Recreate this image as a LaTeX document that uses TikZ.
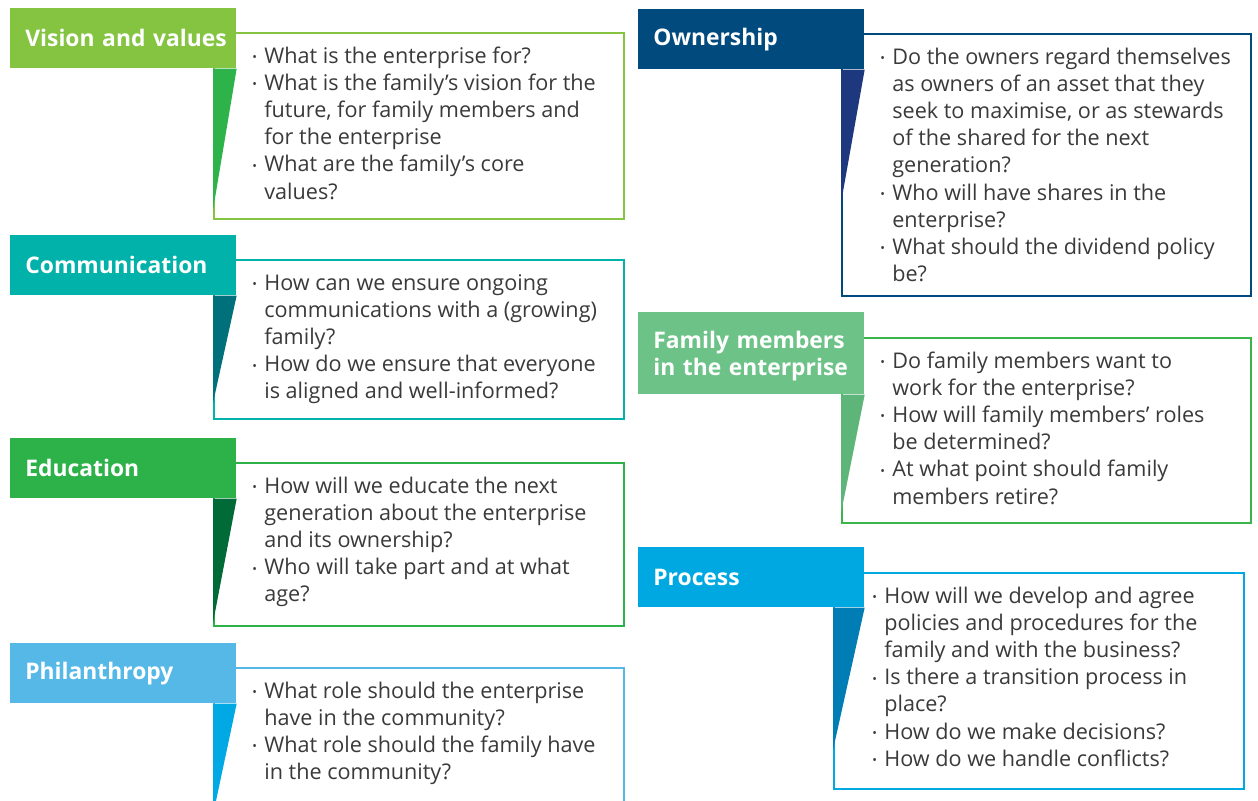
\documentclass[tikz,border=0pt]{standalone}
\usepackage{fontspec}
\setmainfont{Open Sans}
\setsansfont{Open Sans}

\definecolor{vhead}{HTML}{84C441}
\definecolor{vtri}{HTML}{2DB34A}
\definecolor{chead}{HTML}{00B2A9}
\definecolor{ctri}{HTML}{00707A}
\definecolor{ehead}{HTML}{2DB24A}
\definecolor{etri}{HTML}{006B37}
\definecolor{phead}{HTML}{55B8E7}
\definecolor{ptri}{HTML}{00A9E3}
\definecolor{ohead}{HTML}{004A7D}
\definecolor{otri}{HTML}{1E387F}
\definecolor{fhead}{HTML}{6CC287}
\definecolor{ftri}{HTML}{5DB57A}
\definecolor{fline}{HTML}{3BB54A}
\definecolor{rhead}{HTML}{00A8E2}
\definecolor{rtri}{HTML}{007DB5}
\definecolor{txt}{HTML}{3A3A3A}

\tikzset{
  head/.style={rectangle,anchor=north west,inner xsep=0.3cm,inner ysep=0pt,text width=3.92cm,align=left,minimum height=1.2cm,text=white,font=\bfseries\fontsize{13}{15.2}\selectfont},
  panel/.style={rectangle,anchor=north west,inner sep=0pt,minimum width=8.2cm,line width=1.1pt,fill=white},
  qlist/.style={anchor=north west,inner sep=0pt,align=left,text=txt,font=\fontsize{12.3}{15.45}\selectfont}
}

\newcommand{\bul}{\strut\makebox[0.24cm][l]{\raisebox{0.15ex}{\fontsize{7}{7}\selectfont •}}}
\newcommand{\ind}{\strut\hspace*{0.24cm}}

\begin{document}
\begin{tikzpicture}[x=0.02cm,y=-0.02cm]

\clip (0,0) rectangle (1258,801);

% left column
\draw(213,32) node[panel,draw=vhead,minimum height=3.72cm](2){};
\draw(213,259) node[panel,draw=chead,minimum height=3.18cm](5){};
\draw(213,462) node[panel,draw=ehead,minimum height=3.26cm](8){};
\draw(213,667) node[panel,draw=phead,minimum height=2.9cm](11){};

\draw(10,8) node[head,fill=vhead](1){\mbox{Vision and values}};
\draw(10,235) node[head,fill=chead](4){Communication};
\draw(10,438) node[head,fill=ehead](7){Education};
\draw(10,643) node[head,fill=phead](10){Philanthropy};

\fill[vtri] (2.north west |- 1.south) -- (1.south east) -- (2.west |- 0,210) -- cycle;
\fill[ctri] (5.north west |- 4.south) -- (4.south east) -- (5.west |- 0,403) -- cycle;
\fill[etri] (8.north west |- 7.south) -- (7.south east) -- (8.west |- 0,623) -- cycle;
\fill[ptri] (11.north west |- 10.south) -- (10.south east) -- (11.west |- 0,815) -- cycle;

\draw(252,44) node[qlist](3){
\bul What is the enterprise for?\\
\bul What is the family’s vision for the\\
\ind future, for family members and\\
\ind for the enterprise\\
\bul What are the family’s core\\
\ind values?};

\draw(252,271) node[qlist](6){
\bul How can we ensure ongoing\\
\ind communications with a (growing)\\
\ind family?\\
\bul How do we ensure that everyone\\
\ind is aligned and well-informed?};

\draw(252,474) node[qlist](9){
\bul How will we educate the next\\
\ind generation about the enterprise\\
\ind and its ownership?\\
\bul Who will take part and at what\\
\ind age?};

\draw(252,679) node[qlist](12){
\bul What role should the enterprise\\
\ind have in the community?\\
\bul What role should the family have\\
\ind in the community?};

% right column
\draw(841,33) node[panel,draw=ohead,minimum width=8.18cm,minimum height=5.24cm](14){};
\draw(841,337) node[panel,draw=fline,minimum width=8.18cm,minimum height=3.7cm](17){};
\draw(833,572) node[panel,draw=rhead,minimum height=4.32cm](20){};

\draw(638,9) node[head,fill=ohead](13){Ownership};
\draw(638,312) node[head,fill=fhead,minimum height=1.64cm](16){\rule{0pt}{0.45cm}Family members\\in the enterprise};
\draw(638,547) node[head,fill=rhead](19){Process};

\fill[otri] (14.north west |- 13.south) -- (13.south east) -- (14.west |- 0,203) -- cycle;
\fill[ftri] (17.north west |- 16.south) -- (16.south east) -- (17.west |- 0,513) -- cycle;
\fill[rtri] (20.north west |- 19.south) -- (19.south east) -- (20.west |- 0,750) -- cycle;

\draw(880,45) node[qlist](15){
\bul Do the owners regard themselves\\
\ind as owners of an asset that they\\
\ind seek to maximise, or as stewards\\
\ind of the shared for the next\\
\ind generation?\\
\bul Who will have shares in the\\
\ind enterprise?\\
\bul What should the dividend policy\\
\ind be?};

\draw(880,349) node[qlist](18){
\bul Do family members want to\\
\ind work for the enterprise?\\
\bul How will family members’ roles\\
\ind be determined?\\
\bul At what point should family\\
\ind members retire?};

\draw(872,584) node[qlist](21){
\bul How will we develop and agree\\
\ind policies and procedures for the\\
\ind family and with the business?\\
\bul Is there a transition process in\\
\ind place?\\
\bul How do we make decisions?\\
\bul How do we handle conflicts?};

\end{tikzpicture}
\end{document}
